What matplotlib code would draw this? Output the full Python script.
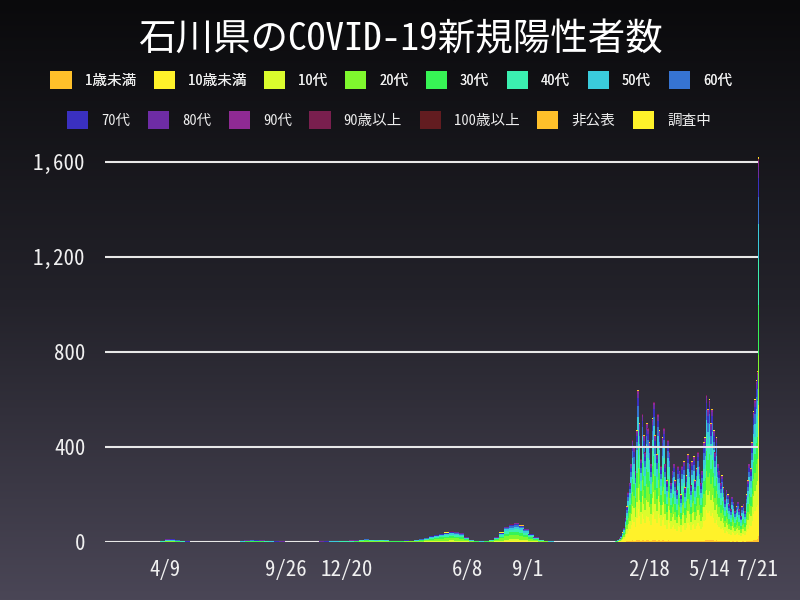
import numpy as np
import matplotlib.pyplot as plt
from matplotlib.patches import Patch
from matplotlib.colors import LinearSegmentedColormap

plt.rcParams['font.family'] = ['Noto Sans Mono CJK JP', 'Noto Sans CJK JP', 'DejaVu Sans']

groups = ['1歳未満', '10歳未満', '10代', '20代', '30代', '40代', '50代', '60代',
          '70代', '80代', '90代', '90歳以上', '100歳以上', '非公表', '調査中']
colors = ['#ffc02a', '#fff22a', '#dafc2d', '#7ff82e', '#37f455', '#3befb0', '#3acbdc', '#3674d2',
          '#3a30c0', '#6e2ca5', '#8f2a94', '#791f4e', '#621c20', '#ffc02a', '#fff22a']

# weekly average of daily cases, weeks starting 2020-02-20
weekly_start = '2020-02-20'
weekly_avg = [0.3, 0.2, 0.2, 0, 0.3, 2, 6, 12, 14, 10,
              6, 3, 1.5, 0.5, 0.3, 0, 0, 0, 0, 0,
              0.2, 1, 4, 8, 10, 9, 8, 6, 4, 3,
              2.5, 2, 2, 1.5, 2, 2, 1.5, 2, 2.5, 3,
              4, 5, 6, 6, 7, 8, 10, 12, 10, 8,
              10, 8, 5, 4, 5, 7, 6, 8, 12, 18,
              25, 30, 35, 40, 45, 42, 38, 20, 8, 4,
              3, 5, 10, 20, 40, 65, 75, 80, 70, 55,
              35, 20, 10, 6, 3, 1, 0.5, 0.3, 0.2, 0,
              0, 0, 0.2, 0.2, 0.3, 0.5, 1]

# two-day values, starting 2021-12-30
twoday_start = '2021-12-30'
twoday_vals = [2, 3, 4, 8, 15, 25, 40, 60,
               100, 150, 210, 250, 330, 430, 400, 300,
               470, 640, 500, 350, 540, 450, 380, 500,
               480, 420, 330, 520, 590, 450, 370, 540,
               470, 320, 440, 480, 330, 260, 430, 380,
               250, 300, 330, 260, 220, 320, 300, 200,
               320, 340, 230, 280, 370, 330, 240, 340,
               360, 260, 310, 380, 320, 250, 300, 420,
               440, 620, 560, 600, 500, 560, 470, 380,
               440, 330, 300, 250, 280, 230, 180, 220,
               200, 160, 140, 190, 170, 130, 150, 170,
               140, 110, 150, 160, 130, 200, 260, 330,
               310, 420, 550, 600, 680]

tail_dates = ['2022-07-20', '2022-07-21']
tail_vals = [720, 1620]

# age mix (percent) by year
share_2020 = [0, 1, 3, 14, 10, 12, 15, 12, 10, 13, 6, 2, 0.5, 1, 0.5]
share_2021 = [0.3, 4, 10, 24, 16, 15, 12, 7, 5, 3, 1.5, 0.5, 0, 1, 0.7]
share_2022 = [1.5, 20, 14, 13, 13, 12, 9, 7, 5, 3, 1.5, 0.5, 0, 0.3, 0.2]

tick_dates = ['2020-04-09', '2020-09-26', '2020-12-20', '2021-06-08',
              '2021-09-01', '2022-02-18', '2022-05-14', '2022-07-21']
tick_labels = ['4/9', '9/26', '12/20', '6/8', '9/1', '2/18', '5/14', '7/21']


def stack(ax, x, w, tot, share):
    share = np.array(share, dtype=float) / sum(share)
    tot = np.array(tot, dtype=float)
    bottom = np.zeros(len(tot))
    for k, c in enumerate(colors):
        h = tot * share[k]
        ax.bar(x, h, width=w, bottom=bottom, color=c, align='edge',
               linewidth=0, zorder=2, clip_on=False)
        bottom += h


fig = plt.figure(figsize=(8, 6), dpi=100)
bg = fig.add_axes([0, 0, 1, 1], zorder=-1)
grad = np.linspace(0, 1, 256).reshape(-1, 1)
cmap = LinearSegmentedColormap.from_list('bg', ['#0a0a0c', '#23222a', '#4a4656'])
bg.imshow(grad, aspect='auto', cmap=cmap, extent=[0, 1, 0, 1])
bg.axis('off')

ax = fig.add_axes([105 / 800, 58 / 600, 653 / 800, 404 / 600])
ax.set_facecolor('none')

# bars are a bit wider than their step so neighbours overlap and leave no seams
wk_x = np.datetime64(weekly_start) + np.arange(len(weekly_avg)) * 7
wk_v = np.array(weekly_avg)
m20 = wk_x < np.datetime64('2021-01-01')
stack(ax, wk_x[m20], 7.4, wk_v[m20], share_2020)
stack(ax, wk_x[~m20], 7.4, wk_v[~m20], share_2021)

td_x = np.datetime64(twoday_start) + np.arange(len(twoday_vals)) * 2
stack(ax, td_x, 2.4, twoday_vals, share_2022)
stack(ax, np.array(tail_dates, dtype='datetime64[D]'), 2.2, tail_vals, share_2022)

ax.set_ylim(0, 1700)
ax.set_xlim(np.datetime64('2020-01-16'), np.datetime64('2022-07-21T12'))
yt = [0, 400, 800, 1200, 1600]
for v in yt:
    ax.axhline(v, color='#e8e8e8', lw=1.5, zorder=1 if v == 0 else 3)
ax.set_yticks(yt)
ax.set_yticklabels([f'{v:,}' for v in yt], fontsize=15, color='#f0f0f0')
ax.set_xticks(np.array(tick_dates, dtype='datetime64[D]') + np.timedelta64(12, 'h'))
ax.set_xticklabels(tick_labels, fontsize=15, color='#f0f0f0')
ax.tick_params(axis='both', length=0)
ax.tick_params(axis='y', pad=14)
ax.tick_params(axis='x', pad=12)
for s in ax.spines.values():
    s.set_visible(False)

fig.text(0.5, 1 - 40 / 600, '石川県のCOVID-19新規陽性者数', fontsize=27, color='white',
         ha='center', va='center')

handles = [Patch(facecolor=c, label=g) for g, c in zip(groups, colors)]
kw = dict(frameon=False, fontsize=10.5, labelcolor='#eeeeee', handlelength=1.45,
          handleheight=1.45, handletextpad=0.9, columnspacing=1.2, loc='center')
leg1 = fig.legend(handles=handles[:8], ncol=8, bbox_to_anchor=(0.489, 1 - 80 / 600), **kw)
fig.add_artist(leg1)
fig.legend(handles=handles[8:], ncol=7, bbox_to_anchor=(0.486, 1 - 120 / 600), **kw)

fig.savefig('out.png', dpi=100)
